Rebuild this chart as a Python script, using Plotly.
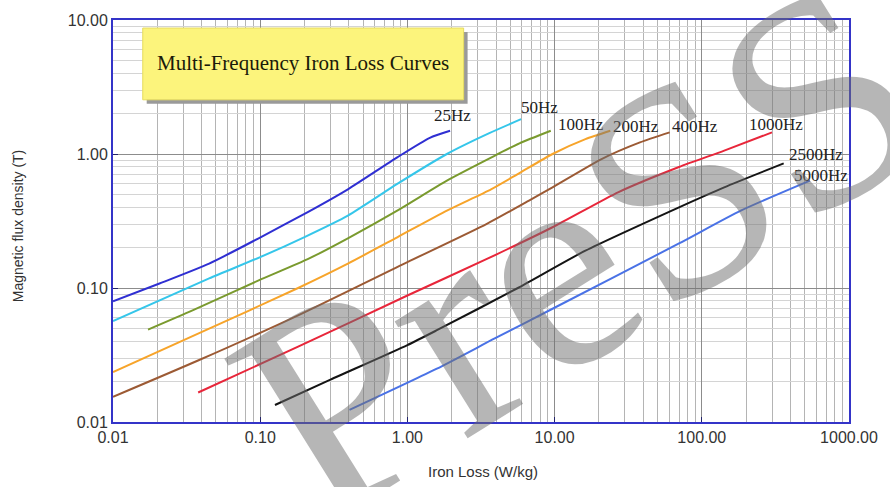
import math
import plotly.graph_objects as go

# ---- data ----
freq_labels = ["25Hz", "50Hz", "100Hz", "200Hz", "400Hz", "1000Hz", "2500Hz", "5000Hz"]

loss_25 = [0.01, 0.0207, 0.045, 0.0976, 0.212, 0.394, 0.853, 1.42, 1.95]
b_25 = [0.0795, 0.108, 0.152, 0.235, 0.37, 0.545, 0.944, 1.32, 1.49]

loss_50 = [0.01, 0.045, 0.1, 0.2, 0.394, 0.853, 1.855, 3.6, 5.92]
b_50 = [0.0567, 0.118, 0.17, 0.24, 0.347, 0.598, 1.0, 1.43, 1.82]

loss_100 = [0.0173, 0.0347, 0.0976, 0.212, 0.394, 0.853, 1.855, 3.7, 5.77, 9.42]
b_100 = [0.0489, 0.068, 0.114, 0.165, 0.235, 0.378, 0.633, 0.94, 1.2, 1.49]

loss_200 = [0.01, 0.0385, 0.181, 0.394, 0.853, 1.855, 3.7, 5.77, 9.68, 16.2, 23.9]
b_200 = [0.0236, 0.046, 0.1, 0.152, 0.239, 0.378, 0.545, 0.72, 1.0, 1.29, 1.49]

loss_400 = [0.01, 0.0385, 0.181, 1.0, 3.44, 6.7, 9.68, 21.0, 38.0, 60.5]
b_400 = [0.0154, 0.029, 0.0625, 0.156, 0.30, 0.449, 0.564, 0.92, 1.22, 1.45]

loss_1000 = [0.0379, 0.181, 1.0, 3.44, 9.68, 27.2, 70.0, 142.0, 300.0]
b_1000 = [0.0166, 0.0365, 0.0879, 0.164, 0.284, 0.52, 0.80, 1.06, 1.45]

loss_2500 = [0.126, 0.3, 1.0, 1.586, 5.63, 16.2, 70.0, 142.0, 360.0]
b_2500 = [0.0134, 0.0207, 0.0375, 0.0484, 0.10, 0.19, 0.40, 0.564, 0.851]

loss_5000 = [0.404, 1.586, 3.92, 9.68, 70.0, 184.0, 543.0]
b_5000 = [0.0123, 0.025, 0.042, 0.070, 0.215, 0.378, 0.633]

x_ticks = [0.01, 0.1, 1, 10, 100, 1000]
x_tick_text = ["0.01", "0.10", "1.00", "10.00", "100.00", "1000.00"]
y_ticks = [0.01, 0.1, 1, 10]
y_tick_text = ["0.01", "0.10", "1.00", "10.00"]

series_x = [loss_25, loss_50, loss_100, loss_200, loss_400, loss_1000, loss_2500, loss_5000]
series_y = [b_25, b_50, b_100, b_200, b_400, b_1000, b_2500, b_5000]
colors = ["#2f2fd2", "#35c6ea", "#7a9a2e", "#f7a42a", "#9c5a34", "#e8263a", "#141414", "#4a72e6"]
# label offsets (pixels) from each curve's end point
label_dx = [2, 18, 30, 26, 25, 4, 32, 11]
label_dy = [15, 12, 6, 4, 6, 8, 9, 5]

fig = go.Figure()
for name, xs, ys, c in zip(freq_labels, series_x, series_y, colors):
    fig.add_trace(go.Scatter(x=xs, y=ys, mode="lines", name=name,
                             line=dict(color=c, width=2, shape="spline", smoothing=0.6),
                             showlegend=False))

annotations = []
for name, xs, ys, dx, dy in zip(freq_labels, series_x, series_y, label_dx, label_dy):
    annotations.append(dict(x=math.log10(xs[-1]), y=math.log10(ys[-1]), xref="x", yref="y",
                            text=name, showarrow=False, xshift=dx, yshift=dy,
                            xanchor="center", yanchor="middle",
                            font=dict(family="Liberation Serif", size=17, color="#222")))

# title box text
annotations.append(dict(x=0.2584, y=0.893, xref="paper", yref="paper",
                        xanchor="center", yanchor="middle",
                        text="Multi-Frequency Iron Loss Curves", showarrow=False,
                        font=dict(family="Liberation Serif", size=21, color="#1a1a0a")))
# axis titles
annotations.append(dict(x=0.503, y=-0.124, xref="paper", yref="paper", text="Iron Loss (W/kg)",
                        xanchor="center", yanchor="middle",
                        showarrow=False, font=dict(family="Liberation Sans", size=15, color="#333")))
annotations.append(dict(x=-0.128, y=0.489, xref="paper", yref="paper", text="Magnetic flux density (T)",
                        xanchor="center", yanchor="middle",
                        textangle=-90, showarrow=False,
                        font=dict(family="Liberation Sans", size=14, color="#333")))
# watermark
annotations.append(dict(x=0.6326, y=0.427, xref="paper", yref="paper", text="PreSS",
                        xanchor="center", yanchor="middle",
                        textangle=-32, showarrow=False,
                        font=dict(family="Liberation Serif", size=300, color="rgba(110,110,110,0.5)")))

shapes = [
    dict(type="rect", xref="paper", yref="paper", x0=0.0458, x1=0.4818, y0=0.7916, y1=0.9702,
         fillcolor="#9a9a9a", line=dict(width=0)),
    dict(type="rect", xref="paper", yref="paper", x0=0.0404, x1=0.4764, y0=0.8015, y1=0.980,
         fillcolor="#fcf47c", line=dict(color="#e6dc60", width=1)),
]

axis_common = dict(type="log", showline=True, mirror=True, linecolor="#3434c8", linewidth=2,
                   ticks="inside", ticklen=5, tickcolor="#22226a",
                   showgrid=True, gridcolor="#8c8c8c", gridwidth=1,
                   tickfont=dict(family="Liberation Sans", size=16, color="#333"),
                   zeroline=False)

fig.update_layout(
    width=890, height=487,
    margin=dict(l=113, r=34, t=19, b=65),
    paper_bgcolor="white", plot_bgcolor="white",
    xaxis=dict(range=[-2, 3], tickvals=x_ticks, ticktext=x_tick_text,
               minor=dict(dtick="D1", showgrid=True, gridcolor="#b4b4b4", gridwidth=1, ticks=""),
               **axis_common),
    yaxis=dict(range=[-2, 1], tickvals=y_ticks, ticktext=y_tick_text,
               minor=dict(dtick="D1", showgrid=True, gridcolor="#d4d4d4", gridwidth=1, ticks=""),
               **axis_common),
    shapes=shapes,
    annotations=annotations,
)

fig.write_html("out.html")
